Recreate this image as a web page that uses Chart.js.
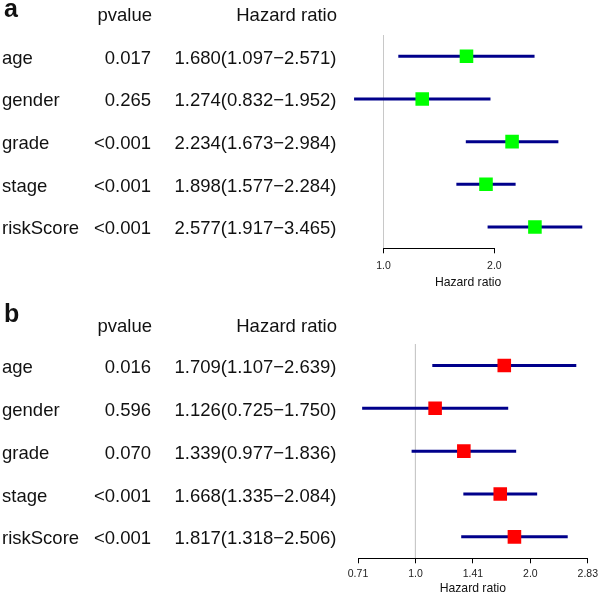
<!DOCTYPE html>
<html>
<head>
<meta charset="utf-8">
<script src="https://cdn.jsdelivr.net/npm/chart.js@4.4.1/dist/chart.umd.min.js"></script>
<style>
  html, body { margin: 0; padding: 0; background: #fff; overflow: hidden; }
  canvas { display: block; }
</style>
</head>
<body>
<canvas id="panel-a" width="598" height="298"></canvas>
<canvas id="panel-b" width="598" height="298"></canvas>
<script>
// ===== DATA =====
const variables = ['age', 'gender', 'grade', 'stage', 'riskScore'];

// panel a (green boxes)
const pvalueA = ['0.017', '0.265', '<0.001', '<0.001', '<0.001'];
const hrA = [1.680, 1.274, 2.234, 1.898, 2.577];
const lowA = [1.097, 0.832, 1.673, 1.577, 1.917];
const highA = [2.571, 1.952, 2.984, 2.284, 3.465];
const tickValuesA = [1.0, 2.0];
const tickLabelsA = ['1.0', '2.0'];

// panel b (red boxes)
const pvalueB = ['0.016', '0.596', '0.070', '<0.001', '<0.001'];
const hrB = [1.709, 1.126, 1.339, 1.668, 1.817];
const lowB = [1.107, 0.725, 0.977, 1.335, 1.318];
const highB = [2.639, 1.750, 1.836, 2.084, 2.506];
const tickValuesB = [0.7071, 1.0, 1.4142, 2.0, 2.8284];
const tickLabelsB = ['0.71', '1.0', '1.41', '2.0', '2.83'];

const FONT = '"Liberation Sans", Arial, Helvetica, sans-serif';
Chart.defaults.font.family = FONT;

/** Axis line drawn only between the first and last tick (R style) */
const axisLinePlugin = {
    id: 'axisLine',
    afterDraw(chart) {
        const xs = chart.scales.x;
        const ticks = xs.ticks;
        const y = Math.round(chart.chartArea.bottom) + 0.5;
        const ctx = chart.ctx;
        ctx.save();
        ctx.strokeStyle = '#000';
        ctx.lineWidth = 1;
        ctx.beginPath();
        ctx.moveTo(xs.getPixelForValue(ticks[0].value), y);
        ctx.lineTo(xs.getPixelForValue(ticks[ticks.length - 1].value), y);
        ctx.stroke();
        ctx.restore();
    }
};

/** Table of names, p values and HR text, placed on the row positions of the y scale */
function tablePlugin(opts) {
    return {
        id: 'table',
        afterDraw(chart) {
            const ctx = chart.ctx;
            const ys = chart.scales.y;
            ctx.save();
            ctx.fillStyle = '#111';
            ctx.textBaseline = 'alphabetic';

            ctx.font = 'bold 25px ' + FONT;
            ctx.textAlign = 'left';
            ctx.fillText(opts.letter, 4, opts.letterBaseline);

            ctx.font = '18.5px ' + FONT;
            ctx.textAlign = 'right';
            ctx.fillText('pvalue', 152, opts.headerBaseline);
            ctx.fillText('Hazard ratio', 337, opts.headerBaseline);

            variables.forEach((name, i) => {
                const py = ys.getPixelForValue(i) + 7.5;
                const hrText = opts.hr[i].toFixed(3) + '(' + opts.low[i].toFixed(3) +
                    '\u2212' + opts.high[i].toFixed(3) + ')';
                ctx.textAlign = 'left';
                ctx.fillText(name, 2, py);
                ctx.textAlign = 'right';
                ctx.fillText(opts.pvalue[i], 151, py);
                ctx.fillText(hrText, 336.5, py);
            });
            ctx.restore();
        }
    };
}

function forestPanel(id, opts) {
    const boxes = {
        data: opts.hr.map((v, i) => ({ x: v, y: i })),
        pointStyle: 'rect',
        pointRadius: 9.6,
        pointHoverRadius: 9.6,
        backgroundColor: opts.boxColor,
        borderColor: opts.boxColor,
        borderWidth: 0,
        order: 0
    };
    const ciLines = variables.map((_, i) => ({
        data: [{ x: opts.low[i], y: i }, { x: opts.high[i], y: i }],
        showLine: true,
        borderColor: '#00008b',
        borderWidth: 3,
        borderCapStyle: 'butt',
        pointRadius: 0,
        order: 1
    }));
    const refLine = {
        data: [{ x: 1, y: -0.5 }, { x: 1, y: 4.5 }],
        showLine: true,
        borderColor: '#c8c8c8',
        borderWidth: 1,
        pointRadius: 0,
        order: 2
    };

    return new Chart(document.getElementById(id), {
        type: 'scatter',
        data: { datasets: [boxes, ...ciLines, refLine] },
        options: {
            responsive: false,
            animation: false,
            events: [],
            layout: { padding: opts.padding },
            plugins: { legend: { display: false }, tooltip: { enabled: false } },
            scales: {
                x: {
                    type: 'logarithmic',
                    bounds: 'data',
                    min: opts.xMin,
                    max: opts.xMax,
                    afterBuildTicks: (s) => { s.ticks = opts.tickValues.map(v => ({ value: v })); },
                    border: { display: false },
                    grid: { drawOnChartArea: false, drawTicks: true, tickLength: 5, color: '#000', lineWidth: 1 },
                    ticks: {
                        color: '#222',
                        padding: 0,
                        autoSkip: false,
                        maxRotation: 0,
                        font: { size: 10.5, lineHeight: opts.tickLineHeight },
                        callback: (val, i) => opts.tickLabels[i]
                    },
                    title: {
                        display: true,
                        text: 'Hazard ratio',
                        color: '#111',
                        font: { size: 12.2 },
                        padding: { top: -3.7, bottom: 0 }
                    }
                },
                y: { type: 'linear', display: false, reverse: true, min: -0.5, max: 4.5 }
            }
        },
        plugins: [axisLinePlugin, tablePlugin(opts)]
    });
}

forestPanel('panel-a', {
    letter: 'a', pvalue: pvalueA, hr: hrA, low: lowA, high: highA,
    tickValues: tickValuesA, tickLabels: tickLabelsA, boxColor: '#00ff00',
    xMin: 0.8, xMax: 3.6, tickLineHeight: 2.419,
    padding: { left: 347.8, right: 8.1, top: 35, bottom: 8.36 },
    letterBaseline: 16.7, headerBaseline: 20.5
});

forestPanel('panel-b', {
    letter: 'b', pvalue: pvalueB, hr: hrB, low: lowB, high: highB,
    tickValues: tickValuesB, tickLabels: tickLabelsB, boxColor: '#ff0000',
    xMin: 0.7071, xMax: 2.8284, tickLineHeight: 2.038,
    padding: { left: 358, right: 10, top: 46, bottom: 0.36 },
    letterBaseline: 23.7, headerBaseline: 34
});
</script>
</body>
</html>
